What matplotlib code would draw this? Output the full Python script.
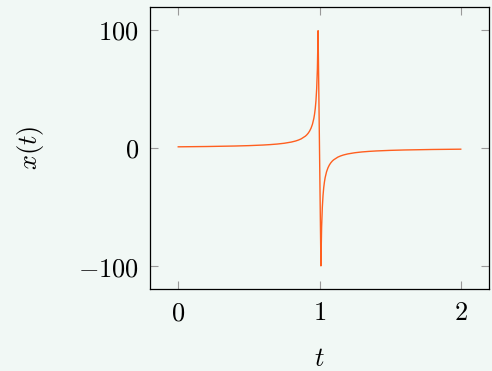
import numpy as np
import matplotlib as mpl
mpl.use('Agg')
import matplotlib.pyplot as plt

# sampled trajectory x(t), pole at t = 1
t = [0.0, 0.2, 0.4, 0.5, 0.6, 0.65, 0.7, 0.75, 0.8, 0.83, 0.85, 0.87, 0.9,
     0.91, 0.92, 0.93, 0.94, 0.95, 0.96, 0.965, 0.97, 0.975, 0.98, 0.985, 0.99,
     1.01, 1.015, 1.02, 1.025, 1.03, 1.035, 1.04, 1.05, 1.06, 1.07, 1.08, 1.09,
     1.1, 1.13, 1.15, 1.17, 1.2, 1.25, 1.3, 1.35, 1.4, 1.5, 1.6, 1.8, 2.0]
x = [1.0, 1.25, 1.67, 2.0, 2.5, 2.86, 3.33, 4.0, 5.0, 5.88, 6.67, 7.69, 10.0,
     11.1, 12.5, 14.3, 16.7, 20.0, 25.0, 28.6, 33.3, 40.0, 50.0, 66.7, 99.0,
     -99.5, -66.7, -50.0, -40.0, -33.3, -28.6, -25.0, -20.0, -16.7, -14.3, -12.5,
     -11.1, -10.0, -7.69, -6.67, -5.88, -5.0, -4.0, -3.33, -2.86, -2.5, -2.0,
     -1.67, -1.25, -1.0]

xticks = [0, 1, 2]
yticks = [-100, 0, 100]

bg = '#f1f8f5'
plt.rcParams['mathtext.fontset'] = 'cm'
plt.rcParams['font.family'] = 'serif'
plt.rcParams['font.serif'] = ['DejaVu Serif']

fig = plt.figure(figsize=(4.92, 3.71), dpi=100, facecolor=bg)
ax = fig.add_axes([150/492, 1-289/371, 339/492, 282/371])
ax.set_facecolor(bg)

ax.plot(t, x, '-', color='#ff5f1f', lw=1.0)

ax.set_xlim(-0.2, 2.2)
ax.set_ylim(-119, 119)
ax.set_xticks(xticks)
ax.set_yticks(yticks)
ax.set_xticklabels([r'$%d$' % v for v in xticks], fontsize=19)
ax.set_yticklabels([r'$%d$' % v for v in yticks], fontsize=19)

ax.tick_params('both', length=6, width=0.8, direction='in', color='#999999', pad=8)
ax.xaxis.set_ticks_position('both')
ax.yaxis.set_ticks_position('both')
for s in ax.spines.values():
    s.set_linewidth(0.9)
    s.set_color('k')

ax.set_xlabel(r'$t$', fontsize=19, labelpad=15)
ax.set_ylabel(r'$x(t)$', fontsize=19, labelpad=23)

fig.savefig('out.png', dpi=100, facecolor=bg)
